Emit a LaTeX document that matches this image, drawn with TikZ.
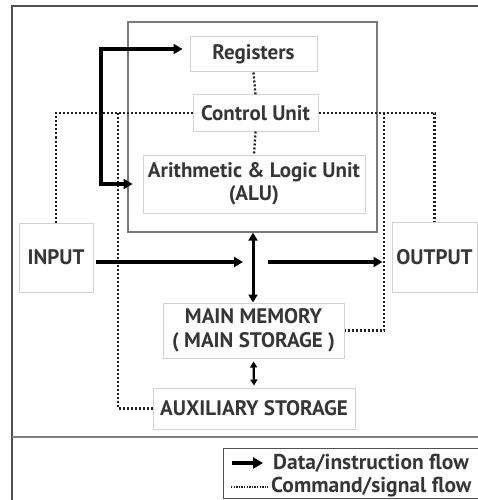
\documentclass[tikz,border=0pt]{standalone}
\usepackage{fontspec}
\setmainfont{PT Sans}
\usetikzlibrary{arrows.meta,calc}
\definecolor{txt}{HTML}{363636}
\definecolor{boxline}{HTML}{D2D2D2}
\definecolor{cpuline}{HTML}{7A7A7A}
\definecolor{frameline}{HTML}{505050}
\definecolor{sigline}{HTML}{202020}
\tikzset{
  unitbox/.style={draw=boxline, line width=1pt, fill=white, text=txt,
    font=\fontsize{21}{23.5}\selectfont\bfseries, align=center, inner sep=0pt},
  dataflow/.style={line width=3.6pt, draw=black,
    arrows={-Triangle[length=9pt,width=10pt]}},
  databoth/.style={line width=3pt, draw=black,
    arrows={Triangle[length=8pt,width=9pt]-Triangle[length=8pt,width=9pt]}},
  smallboth/.style={line width=2.2pt, draw=black,
    arrows={Triangle[length=6pt,width=7pt]-Triangle[length=6pt,width=7pt]}},
  signal/.style={line width=2.3pt, draw=sigline, dash pattern=on 2pt off 2pt},
  legendtext/.style={text=txt, font=\fontsize{21.5}{22}\selectfont\bfseries, anchor=west, inner sep=0pt}
}
\begin{document}
\begin{tikzpicture}[x=1pt,y=-1pt]
\useasboundingbox (0,0) rectangle (478,500);

% outer frame and separator
\draw[frameline, line width=2.6pt] (12,6) rectangle (482,504);
\draw[gray, line width=2.6pt] (12,437) -- (482,437);

% processor enclosure
\node[draw=cpuline, line width=1.3pt, minimum width=249pt, minimum height=210pt, inner sep=0pt] (cpu) at (252.5,127) {};

% units
\node[unitbox, minimum width=127pt, minimum height=35pt] (reg) at (253.5,54.5) {Registers};
\node[unitbox, minimum width=125pt, minimum height=36pt] (ctrl) at (255.5,113) {Control Unit};
\node[unitbox, minimum width=222pt, minimum height=58pt] (alu) at (254,184) {Arithmetic \& Logic Unit\\(ALU)};
\node[unitbox, minimum width=74pt, minimum height=69pt] (input) at (56,257.5) {INPUT};
\node[unitbox, minimum width=85pt, minimum height=70pt] (output) at (434.5,257) {OUTPUT};
\node[unitbox, minimum width=181pt, minimum height=55pt] (main) at (253.5,330.5) {MAIN MEMORY\\( MAIN STORAGE )};
\node[unitbox, minimum width=202pt, minimum height=41pt] (aux) at (254,408.5) {AUXILIARY STORAGE};

% junction points
\coordinate (bk) at (101,120);
\coordinate (inend) at (243,262);
\coordinate (outstart) at (268,262);
\coordinate (sigL) at (118,113);
\coordinate (sigR) at (384,113);

% signal paths
\draw[signal] (reg.south) -- (ctrl.north);
\draw[signal] (ctrl.south) -- (alu.north);
\draw[signal] (ctrl.west) -| (input.north);
\draw[signal] (sigL) |- (aux.west);
\draw[signal] (ctrl.east) -| (output.north);
\draw[signal] (sigR) |- (main.east);

% data paths
\draw[line width=3.6pt, arrows={Triangle[length=9pt,width=10pt]-Triangle[length=9pt,width=10pt]},
  shorten <=7pt, shorten >=10pt]
  ([yshift=5.5pt]reg.west) -| (bk) |- (alu.west);
\draw[dataflow, shorten <=2pt] (input.east |- inend) -- (inend);
\draw[dataflow, shorten >=9pt] (outstart) -- (outstart -| output.west);
\draw[databoth] ([xshift=0.5pt]cpu.south) -- ([xshift=-0.5pt]main.north);
\draw[smallboth, shorten <=3pt, shorten >=2pt] (main.south) -- (aux.north);

% legend
\node[draw=frameline, line width=1.3pt, minimum width=260pt, minimum height=50pt, inner sep=0pt, anchor=north west] (legend) at (223,448) {};
\coordinate (la1) at (232,463);
\coordinate (la2) at (263,463);
\coordinate (lb1) at (231,487);
\coordinate (lb2) at (268,487);
\draw[line width=3.6pt, arrows={-Triangle[length=10pt,width=11pt]}] (la1) -- (la2);
\draw[line width=1.3pt, draw=sigline, dash pattern=on 1.3pt off 1.3pt] (lb1) -- (lb2);
\node[legendtext] (ltxa) at (273,463) {Data/instruction flow};
\node[legendtext] (ltxb) at (271,487) {Command/signal flow};
\end{tikzpicture}
\end{document}
